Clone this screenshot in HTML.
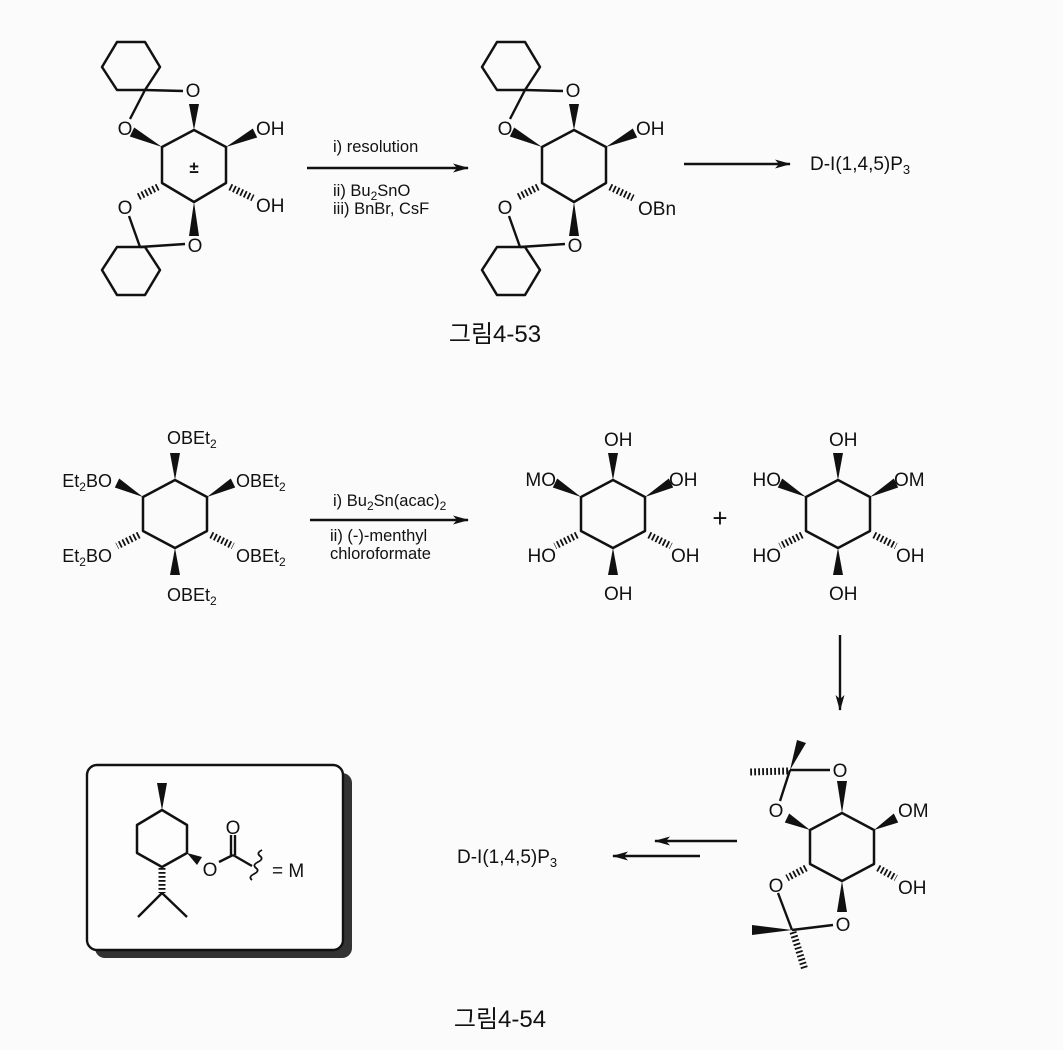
<!DOCTYPE html>
<html><head><meta charset="utf-8"><style>
body{margin:0;background:#fbfbfb;}
svg{display:block}
text{font-family:"Liberation Sans","Noto Sans CJK KR",sans-serif;fill:#111;font-size:19px}
.r{fill:none;stroke:#111;stroke-width:2.5;stroke-linejoin:round}
.l{stroke:#111;stroke-width:2.4;fill:none}
.w{fill:#111}
.h{stroke:#111;stroke-width:7;stroke-dasharray:1.8 2.2;fill:none}
.cap{font-size:24px}
.rg{font-size:16.5px}
.s{font-size:12px}
</style></head><body>
<svg width="1063" height="1050" viewBox="0 0 1063 1050" xmlns="http://www.w3.org/2000/svg">
<defs>
<marker id="ah" markerWidth="16" markerHeight="9" refX="15" refY="4.5" orient="auto" markerUnits="userSpaceOnUse">
<path d="M0,0 L16,4.5 L0,9 L4,4.5 Z" fill="#111"/></marker>
<polygon id="ring" points="0,-34 32,-17 32,17 0,34 -32,17 -32,-17"/>
</defs>

<!-- Structure 1 -->
<g>
<polygon class="r" points="194,130 226,147 226,183 194,202 162,183 162,147"/>
<polygon class="r" points="117,42 145,42 160,67 145,90 117,90 102,67"/>
<polygon class="r" points="117,247 145,247 160,270 145,295 117,295 102,270"/>
<polygon class="w" points="194,130 189,104 199,104"/>
<polygon class="w" points="162,147 134.2,127.5 129.8,136.5"/>
<polygon class="w" points="226,147 257.2,137.5 252.8,128.5"/>
<line class="h" x1="230" y1="187" x2="253" y2="198"/>
<polygon class="w" points="194,202 189,236 199,236"/>
<line class="h" x1="158" y1="187" x2="138" y2="197"/>
<line class="l" x1="183" y1="91" x2="145" y2="90"/>
<line class="l" x1="145" y1="90" x2="130" y2="119"/>
<line class="l" x1="129" y1="216" x2="140" y2="247"/>
<line class="l" x1="140" y1="247" x2="185" y2="244"/>
<text x="193" y="97" text-anchor="middle">O</text>
<text x="125" y="135" text-anchor="middle">O</text>
<text x="256" y="135">OH</text>
<text x="256" y="212">OH</text>
<text x="125" y="214" text-anchor="middle">O</text>
<text x="195" y="252" text-anchor="middle">O</text>
<text x="194" y="173" text-anchor="middle" style="font-size:17px;font-weight:bold">±</text>
</g>

<!-- arrow 1 -->
<line class="l" x1="307" y1="168" x2="468" y2="168" marker-end="url(#ah)"/>
<text class="rg" x="333" y="152">i) resolution</text>
<text class="rg" x="333" y="196">ii) Bu<tspan dy="4" class="s">2</tspan><tspan dy="-4">SnO</tspan></text>
<text class="rg" x="333" y="214">iii) BnBr, CsF</text>

<!-- Structure 2 -->
<g transform="translate(380,0)">
<polygon class="r" points="194,130 226,147 226,183 194,202 162,183 162,147"/>
<polygon class="r" points="117,42 145,42 160,67 145,90 117,90 102,67"/>
<polygon class="r" points="117,247 145,247 160,270 145,295 117,295 102,270"/>
<polygon class="w" points="194,130 189,104 199,104"/>
<polygon class="w" points="162,147 134.2,127.5 129.8,136.5"/>
<polygon class="w" points="226,147 257.2,137.5 252.8,128.5"/>
<line class="h" x1="230" y1="187" x2="253" y2="198"/>
<polygon class="w" points="194,202 189,236 199,236"/>
<line class="h" x1="158" y1="187" x2="138" y2="197"/>
<line class="l" x1="183" y1="91" x2="145" y2="90"/>
<line class="l" x1="145" y1="90" x2="130" y2="119"/>
<line class="l" x1="129" y1="216" x2="140" y2="247"/>
<line class="l" x1="140" y1="247" x2="185" y2="244"/>
<text x="193" y="97" text-anchor="middle">O</text>
<text x="125" y="135" text-anchor="middle">O</text>
<text x="256" y="135">OH</text>
<text x="258" y="215">OBn</text>
<text x="125" y="214" text-anchor="middle">O</text>
<text x="195" y="252" text-anchor="middle">O</text>
</g>

<line class="l" x1="684" y1="164" x2="790" y2="164" marker-end="url(#ah)"/>
<text x="810" y="170">D-I(1,4,5)P<tspan dy="4" style="font-size:13px">3</tspan></text>

<text class="cap" x="495" y="342" text-anchor="middle">그림4-53</text>

<!-- Structure 3 -->
<g>
<polygon class="r" points="175,480 207,497 207,531 175,548 143,531 143,497"/>
<polygon class="w" points="175,480 170,453 180,453"/>
<polygon class="w" points="143,497 119.2,478.5 114.8,487.5"/>
<polygon class="w" points="207,497 235.2,487.5 230.8,478.5"/>
<line class="h" x1="139" y1="535" x2="117" y2="546"/>
<line class="h" x1="211" y1="535" x2="233" y2="546"/>
<polygon class="w" points="175,548 170,575 180,575"/>
<text x="167" y="444" style="font-size:18px">OBEt<tspan dy="4" class="s">2</tspan></text>
<text x="112" y="487" text-anchor="end" style="font-size:18px">Et<tspan dy="4" class="s">2</tspan><tspan dy="-4">BO</tspan></text>
<text x="236" y="487" style="font-size:18px">OBEt<tspan dy="4" class="s">2</tspan></text>
<text x="112" y="562" text-anchor="end" style="font-size:18px">Et<tspan dy="4" class="s">2</tspan><tspan dy="-4">BO</tspan></text>
<text x="236" y="562" style="font-size:18px">OBEt<tspan dy="4" class="s">2</tspan></text>
<text x="167" y="601" style="font-size:18px">OBEt<tspan dy="4" class="s">2</tspan></text>
</g>

<line class="l" x1="310" y1="520" x2="468" y2="520" marker-end="url(#ah)"/>
<text class="rg" x="333" y="506">i) Bu<tspan dy="4" class="s">2</tspan><tspan dy="-4">Sn(acac)</tspan><tspan dy="4" class="s">2</tspan></text>
<text class="rg" x="330" y="541">ii) (-)-menthyl</text>
<text class="rg" x="330" y="559">chloroformate</text>

<!-- Structure 4 -->
<g transform="translate(613,514)">
<use href="#ring" class="r"/>
<polygon class="w" points="0,-34 -5,-61 5,-61"/>
<polygon class="w" points="-32,-17 -55.8,-35.5 -60.2,-26.5"/>
<polygon class="w" points="32,-17 60.2,-26.5 55.8,-35.5"/>
<line class="h" x1="-36" y1="21" x2="-58" y2="32"/>
<line class="h" x1="36" y1="21" x2="58" y2="32"/>
<polygon class="w" points="0,34 -5,61 5,61"/>
</g>
<text x="604" y="446">OH</text>
<text x="556" y="486" text-anchor="end">MO</text>
<text x="669" y="486">OH</text>
<text x="556" y="562" text-anchor="end">HO</text>
<text x="671" y="562">OH</text>
<text x="604" y="600">OH</text>

<text x="720" y="527" text-anchor="middle" style="font-size:26px">+</text>

<!-- Structure 5 -->
<g transform="translate(838,514)">
<use href="#ring" class="r"/>
<polygon class="w" points="0,-34 -5,-61 5,-61"/>
<polygon class="w" points="-32,-17 -55.8,-35.5 -60.2,-26.5"/>
<polygon class="w" points="32,-17 60.2,-26.5 55.8,-35.5"/>
<line class="h" x1="-36" y1="21" x2="-58" y2="32"/>
<line class="h" x1="36" y1="21" x2="58" y2="32"/>
<polygon class="w" points="0,34 -5,61 5,61"/>
</g>
<text x="829" y="446">OH</text>
<text x="781" y="486" text-anchor="end">HO</text>
<text x="894" y="486">OM</text>
<text x="781" y="562" text-anchor="end">HO</text>
<text x="896" y="562">OH</text>
<text x="829" y="600">OH</text>

<line class="l" x1="840" y1="635" x2="840" y2="710" marker-end="url(#ah)"/>

<!-- Structure 6 -->
<g>
<polygon class="r" points="842,813 874,830 874,864 842,881 810,864 810,830"/>
<polygon class="w" points="842,813 837,781 847,781"/>
<polygon class="w" points="810,830 789.2,813.5 784.8,822.5"/>
<polygon class="w" points="874,830 898.2,822.5 893.8,813.5"/>
<line class="h" x1="878" y1="868" x2="896" y2="878"/>
<line class="h" x1="806" y1="868" x2="787" y2="878"/>
<polygon class="w" points="842,881 837,912 847,912"/>
<line class="l" x1="790" y1="770" x2="830" y2="770"/>
<line class="l" x1="790" y1="770" x2="780" y2="801"/>
<polygon class="w" points="790,770 797,740 806,743"/>
<line class="h" x1="788" y1="771" x2="750" y2="772"/>
<line class="l" x1="778" y1="893" x2="792" y2="930"/>
<line class="l" x1="792" y1="930" x2="833" y2="925"/>
<polygon class="w" points="792,930 752,925 752,935"/>
<line class="h" x1="793" y1="932" x2="805" y2="970"/>
<text x="840" y="777" text-anchor="middle">O</text>
<text x="776" y="817" text-anchor="middle">O</text>
<text x="898" y="817">OM</text>
<text x="898" y="894">OH</text>
<text x="776" y="892" text-anchor="middle">O</text>
<text x="843" y="931" text-anchor="middle">O</text>
</g>

<!-- double arrow -->
<line class="l" x1="737" y1="841" x2="655" y2="841" marker-end="url(#ah)"/>
<line class="l" x1="700" y1="856" x2="613" y2="856" marker-end="url(#ah)"/>
<text x="457" y="863">D-I(1,4,5)P<tspan dy="4" style="font-size:13px">3</tspan></text>

<!-- box -->
<rect x="95" y="773" width="257" height="185" rx="10" fill="#333"/>
<rect x="87" y="765" width="256" height="185" rx="10" fill="#fdfdfd" stroke="#111" stroke-width="2.4"/>
<polygon class="r" points="162,810 187,825 187,853 162,867 137,853 137,825"/>
<polygon class="w" points="162,810 157,783 167,783"/>
<polygon class="w" points="187,853 197,865 202,857"/>
<line class="l" x1="219" y1="862" x2="233" y2="855"/>
<line class="l" x1="231" y1="855" x2="231" y2="835"/>
<line class="l" x1="235" y1="855" x2="235" y2="835"/>
<line class="l" x1="233" y1="855" x2="252" y2="866"/>
<path class="l" style="stroke-width:1.8" d="M262,850 q-6,3 -2,6 q4,3 -2,6 q-6,3 -2,6 q4,3 -2,6 q-6,3 -2,6"/>
<line class="h" x1="162" y1="868" x2="162" y2="893"/>
<line class="l" x1="162" y1="893" x2="138" y2="917"/>
<line class="l" x1="162" y1="893" x2="187" y2="917"/>
<text x="210" y="876" text-anchor="middle">O</text>
<text x="233" y="834" text-anchor="middle">O</text>
<text x="272" y="877">= M</text>

<text class="cap" x="500" y="1027" text-anchor="middle">그림4-54</text>
</svg>
</body></html>
